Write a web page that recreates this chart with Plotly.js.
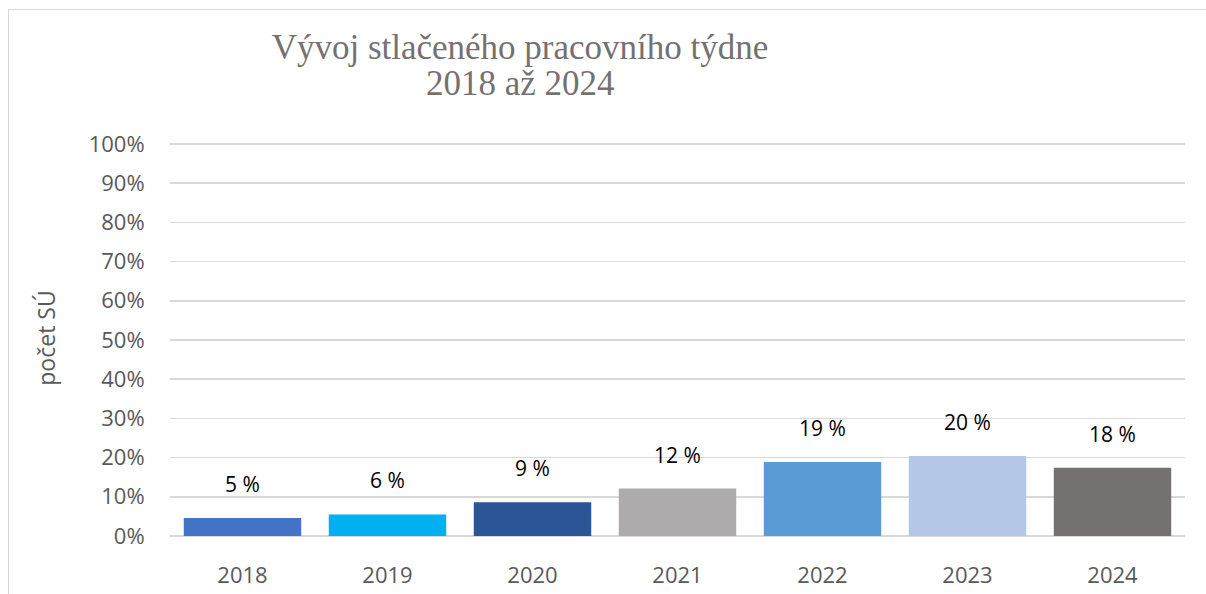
<!DOCTYPE html>
<html>
<head>
<meta charset="utf-8">
<script src="https://cdn.plot.ly/plotly-3.0.1.min.js"></script>
<style>
html,body{margin:0;padding:0;background:#fff;}
#wrap{position:relative;width:1206px;height:594px;overflow:hidden;}
#chart{position:absolute;left:0;top:0;width:1206px;height:594px;}
#frame{position:absolute;left:8px;top:9px;width:1220px;height:620px;border-top:1.5px solid #d9d9d9;border-left:1.5px solid #d9d9d9;pointer-events:none;}
</style>
</head>
<body>
<div id="wrap"><div id="chart"></div><div id="frame"></div></div>
<script>
const years = ['2018','2019','2020','2021','2022','2023','2024'];
const shares = [4.6, 5.5, 8.6, 12.1, 18.9, 20.4, 17.4];
const labels = ['5 %','6 %','9 %','12 %','19 %','20 %','18 %'];
const colors = ['#4472c4','#00b0f0','#2b5597','#adabab','#5b9bd5','#b4c7e7','#767171'];
const yTicks = [0,10,20,30,40,50,60,70,80,90,100];
const yTickText = yTicks.map(v => v + '%');
const titleLines = ['Vývoj stlačeného pracovního týdne', '2018 až 2024'];

const trace = {
  type: 'bar',
  x: years,
  y: shares,
  marker: {color: colors},
  hoverinfo: 'skip'
};

const labelFont = {family: 'Open Sans, sans-serif', size: 21, color: '#000'};
const annotations = years.map((yr, i) => ({
  x: i, y: shares[i], xref: 'x', yref: 'y',
  text: labels[i], showarrow: false,
  yanchor: 'bottom', yshift: 18,
  font: labelFont
}));
annotations.push({
  xref: 'paper', yref: 'paper', x: (520 - 170) / 1015, y: 1,
  xanchor: 'center', yanchor: 'middle', yshift: 140 - 83,
  text: titleLines[1], showarrow: false,
  font: {family: 'Liberation Serif, Times New Roman, serif', size: 35, color: '#767171'}
});

const layout = {
  width: 1206, height: 594,
  margin: {l: 170, r: 21, t: 140, b: 58},
  paper_bgcolor: '#fff', plot_bgcolor: '#fff',
  bargap: 0.19,
  showlegend: false,
  title: {
    text: titleLines[0],
    font: {family: 'Liberation Serif, Times New Roman, serif', size: 35, color: '#767171'},
    xref: 'container', x: 520 / 1206, xanchor: 'center',
    yref: 'container', y: 1 - 47 / 594, yanchor: 'middle'
  },
  annotations: annotations,
  xaxis: {
    type: 'category',
    range: [-0.5, years.length - 0.5],
    autorange: false,
    tickfont: {family: 'Open Sans, sans-serif', size: 22, color: '#595959'},
    showgrid: false, showline: false,
    ticks: 'outside', ticklen: 20, tickcolor: 'rgba(0,0,0,0)',
    fixedrange: true
  },
  yaxis: {
    range: [0, 101],
    autorange: false,
    tickvals: yTicks, ticktext: yTickText,
    tickfont: {family: 'Open Sans, sans-serif', size: 22, color: '#595959'},
    showgrid: true, gridcolor: '#d9d9d9', gridwidth: 1.5,
    zeroline: true, zerolinecolor: '#d9d9d9', zerolinewidth: 2,
    showline: false, ticks: 'outside', ticklen: 20, tickcolor: 'rgba(0,0,0,0)',
    title: {text: 'počet SÚ', font: {family: 'Open Sans, sans-serif', size: 23, color: '#595959'}, standoff: 26},
    fixedrange: true
  }
};

Plotly.newPlot('chart', [trace], layout, {displayModeBar: false, staticPlot: true});
</script>
</body>
</html>
